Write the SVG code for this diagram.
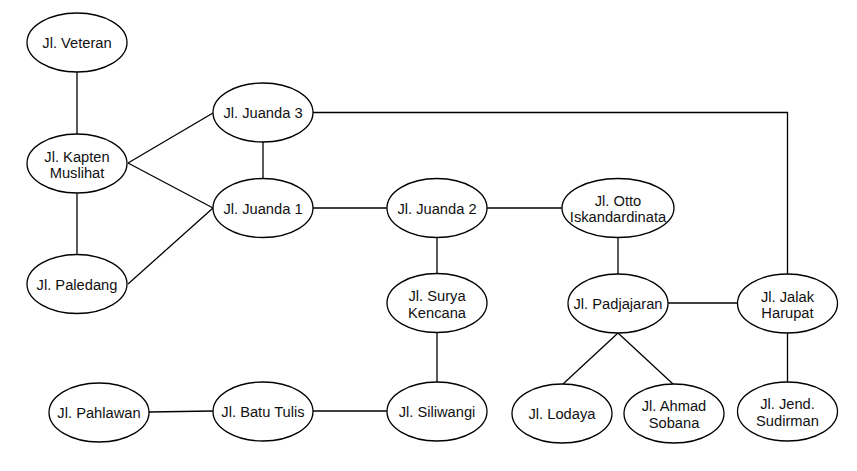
<svg xmlns="http://www.w3.org/2000/svg" width="857" height="471" viewBox="0 0 857 471">
<style>
.n ellipse{fill:#fff;stroke:#000;stroke-width:1.3}
.n text{font-family:"Liberation Sans",Arial,sans-serif;font-size:14.7px;fill:#111;text-anchor:middle}
.c line,.c polyline{stroke:#000;stroke-width:1.3;fill:none}
</style>
<rect width="857" height="471" fill="#fff"/>
<g class="c" id="connectors">
<line x1="77" y1="72" x2="77" y2="134"/>
<line x1="77" y1="193" x2="77" y2="254"/>
<line x1="128" y1="163" x2="213" y2="113"/>
<line x1="128" y1="163" x2="213" y2="208"/>
<line x1="128" y1="284" x2="213" y2="208"/>
<line x1="263" y1="142" x2="263" y2="178"/>
<polyline points="313,112.5 787.5,112.5 787.5,274"/>
<line x1="313" y1="208" x2="387" y2="208"/>
<line x1="487" y1="208" x2="562" y2="208"/>
<line x1="437" y1="237" x2="437" y2="274"/>
<line x1="618" y1="237" x2="618" y2="274"/>
<line x1="668" y1="303" x2="737" y2="303"/>
<line x1="618" y1="333" x2="563" y2="384"/>
<line x1="618" y1="333" x2="673" y2="384"/>
<line x1="787.5" y1="333" x2="787.5" y2="382"/>
<line x1="437" y1="332" x2="437" y2="382"/>
<line x1="313" y1="411" x2="387" y2="411"/>
<line x1="149" y1="412" x2="213" y2="411"/>
</g>
<g class="n" id="veteran"><ellipse cx="77" cy="42.5" rx="50" ry="29.5"/><text x="77" y="48">Jl. Veteran</text></g>
<g class="n" id="kapten"><ellipse cx="77" cy="163.5" rx="50" ry="29.5"/><text x="77" y="161.5">Jl. Kapten</text><text x="77" y="178">Muslihat</text></g>
<g class="n" id="paledang"><ellipse cx="77" cy="284" rx="50" ry="29.5"/><text x="77" y="289.5">Jl. Paledang</text></g>
<g class="n" id="juanda3"><ellipse cx="263" cy="112.5" rx="50" ry="29.5"/><text x="263" y="118">Jl. Juanda 3</text></g>
<g class="n" id="juanda1"><ellipse cx="263" cy="208" rx="50" ry="29.5"/><text x="263" y="213.5">Jl. Juanda 1</text></g>
<g class="n" id="juanda2"><ellipse cx="437" cy="208" rx="50" ry="29.5"/><text x="437" y="213.5">Jl. Juanda 2</text></g>
<g class="n" id="otto"><ellipse cx="618" cy="208" rx="56" ry="29.5"/><text x="618" y="205.5">Jl. Otto</text><text x="618" y="222">Iskandardinata</text></g>
<g class="n" id="surya"><ellipse cx="437" cy="303" rx="50" ry="29.5"/><text x="437" y="301">Jl. Surya</text><text x="437" y="317.5">Kencana</text></g>
<g class="n" id="padjajaran"><ellipse cx="618" cy="303.5" rx="50" ry="29.5"/><text x="618" y="309">Jl. Padjajaran</text></g>
<g class="n" id="jalak"><ellipse cx="787.5" cy="303.5" rx="50" ry="29.5"/><text x="787.5" y="301.5">Jl. Jalak</text><text x="787.5" y="318">Harupat</text></g>
<g class="n" id="lodaya"><ellipse cx="562" cy="413.5" rx="50" ry="29.5"/><text x="562" y="419">Jl. Lodaya</text></g>
<g class="n" id="ahmad"><ellipse cx="674" cy="413.5" rx="50" ry="29.5"/><text x="674" y="411">Jl. Ahmad</text><text x="674" y="427.5">Sobana</text></g>
<g class="n" id="sudirman"><ellipse cx="787.5" cy="411.5" rx="50" ry="29.5"/><text x="787.5" y="409">Jl. Jend.</text><text x="787.5" y="425.5">Sudirman</text></g>
<g class="n" id="pahlawan"><ellipse cx="99" cy="412.5" rx="50" ry="29.5"/><text x="99" y="418">Jl. Pahlawan</text></g>
<g class="n" id="batutulis"><ellipse cx="263" cy="411.5" rx="50" ry="29.5"/><text x="263" y="417">Jl. Batu Tulis</text></g>
<g class="n" id="siliwangi"><ellipse cx="437" cy="411.5" rx="50" ry="29.5"/><text x="437" y="417">Jl. Siliwangi</text></g>
</svg>
